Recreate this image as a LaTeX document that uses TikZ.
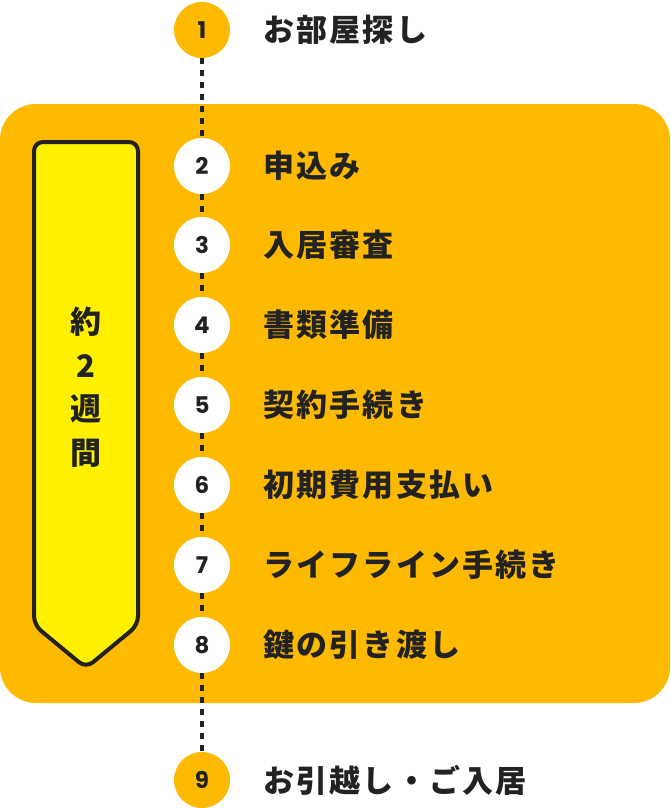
\documentclass[tikz,border=0pt]{standalone}
\usepackage{fontspec}
\newfontfamily\jpfont[LetterSpace=7]{Noto Sans CJK JP}
\newfontfamily\numfont{Poppins}
\usetikzlibrary{positioning}

\definecolor{boxorange}{RGB}{253,186,0}
\definecolor{arrowyellow}{RGB}{255,241,0}
\definecolor{inkdark}{RGB}{34,34,34}

\begin{document}
\begin{tikzpicture}[
  x=1pt,y=-1pt,
  stepdot/.style={circle,minimum size=56pt,inner sep=0pt,font=\numfont\fontsize{23}{23}\selectfont\bfseries,text=inkdark},
  outer/.style={stepdot,fill=boxorange},
  inner/.style={stepdot,fill=white},
  lbl/.style={anchor=west,inner sep=0pt,font=\jpfont\fontsize{31}{31}\selectfont\bfseries,text=inkdark},
  dots/.style={draw=inkdark,line width=3.5pt,dash pattern=on 6pt off 6pt}]

  \useasboundingbox (0,0) rectangle (670,808);

  % orange panel
  \fill[boxorange,rounded corners=36pt] (0,104) rectangle (670,703);

  % period arrow
  \draw[line width=4pt,fill=arrowyellow,draw=inkdark,rounded corners=9pt,line join=round]
    (34,142) -- (138,142) -- (138,625) -- (86,668) -- (34,625) -- cycle;
  \node[font=\jpfont\fontsize{31}{43.5}\selectfont\bfseries,text=inkdark,align=center] (period) at (86,387) {約\\2\\週\\間};

  % steps
  \node[outer] (s1) at (202,30) {1};
  \node[inner] (s2) at (202,166) {2};
  \node[inner] (s3) at (202,245) {3};
  \node[inner] (s4) at (202,325) {4};
  \node[inner] (s5) at (202,405) {5};
  \node[inner] (s6) at (202,485) {6};
  \node[inner] (s7) at (202,565) {7};
  \node[inner] (s8) at (202,645) {8};
  \node[outer] (s9) at (202,780) {9};

  \node[lbl,right=33pt of s1] (l1) {お部屋探し};
  \node[lbl,right=33pt of s2] (l2) {申込み};
  \node[lbl,right=33pt of s3] (l3) {入居審査};
  \node[lbl,right=33pt of s4] (l4) {書類準備};
  \node[lbl,right=33pt of s5] (l5) {契約手続き};
  \node[lbl,right=33pt of s6] (l6) {初期費用支払い};
  \node[lbl,right=33pt of s7] (l7) {ライフライン手続き};
  \node[lbl,right=33pt of s8] (l8) {鍵の引き渡し};
  \node[lbl,right=33pt of s9] (l9) {お引越し・ご入居};

  % dotted path between steps
  \foreach \a/\b in {1/2,2/3,3/4,4/5,5/6,6/7,7/8,8/9}
    \draw[dots] (s\a) -- (s\b);

\end{tikzpicture}
\end{document}
